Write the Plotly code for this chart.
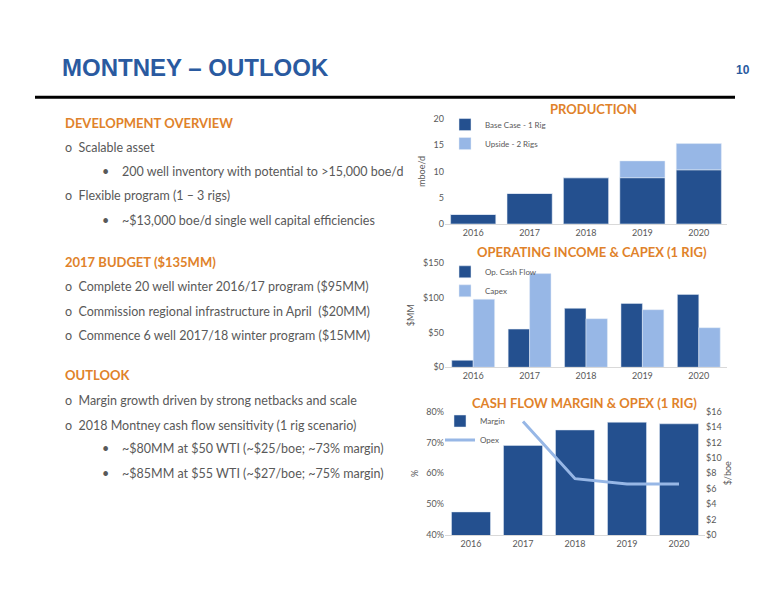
import plotly.graph_objects as go

years = ['2016', '2017', '2018', '2019', '2020']
base_case = [1.8, 5.8, 8.8, 8.8, 10.3]
upside = [0, 0, 0, 3.2, 5.0]
op_cash_flow = [10, 55, 85, 92, 105]
capex = [98, 135, 70, 83, 57]
margin = [47.5, 69, 74, 76.5, 76]
opex_years = ['2017', '2018', '2019', '2020']
opex = [14.7, 7.3, 6.6, 6.6]

W, H = 776, 600
DARK = '#24508f'
LIGHT = '#97b7e6'
ORANGE = '#e0822a'
GREY = '#595959'


def px(x):
    return x / W


def py(y):
    return 1 - y / H


fig = go.Figure()

# production
fig.add_trace(go.Bar(x=years, y=base_case, name='Base Case - 1 Rig', marker_color=DARK,
                     xaxis='x', yaxis='y'))
fig.add_trace(go.Bar(x=years, y=upside, base=base_case, name='Upside - 2 Rigs', marker_color=LIGHT,
                     xaxis='x', yaxis='y'))
# operating income & capex
fig.add_trace(go.Bar(x=years, y=op_cash_flow, name='Op. Cash Flow', marker_color=DARK,
                     offset=-0.38, width=0.38, xaxis='x2', yaxis='y2', legend='legend2'))
fig.add_trace(go.Bar(x=years, y=capex, name='Capex', marker_color=LIGHT,
                     offset=0.0, width=0.38, xaxis='x2', yaxis='y2', legend='legend2'))
# cash flow margin & opex
fig.add_trace(go.Bar(x=years, y=margin, name='Margin', marker_color=DARK, width=0.75,
                     xaxis='x3', yaxis='y3', legend='legend3'))
fig.add_trace(go.Scatter(x=opex_years, y=opex, name='Opex', mode='lines',
                         line=dict(color=LIGHT, width=3),
                         xaxis='x3', yaxis='y4', legend='legend3'))

tick = dict(size=9, color=GREY)
xcommon = dict(showgrid=False, tickfont=tick, showline=True, linecolor='#d9d9d9', ticks='')
leg = dict(xanchor='left', yanchor='top', font=dict(size=8, color=GREY),
           bgcolor='rgba(0,0,0,0)', itemwidth=30, tracegroupgap=0)

fig.update_layout(
    width=W, height=H, margin=dict(l=0, r=0, t=0, b=0),
    paper_bgcolor='white', plot_bgcolor='white',
    font=dict(family='Lato', color=GREY),
    barmode='overlay',
    xaxis=dict(domain=[px(445), px(727)], anchor='y', **xcommon),
    yaxis=dict(domain=[py(222), py(115)], range=[0, 20], dtick=5, showgrid=False,
               tickfont=tick, title=dict(text='mboe/d', font=dict(size=9), standoff=6)),
    xaxis2=dict(domain=[px(445), px(727)], anchor='y2', **xcommon),
    yaxis2=dict(domain=[py(368), py(262)], range=[0, 150], dtick=50, showgrid=False,
                tickprefix='$', tickfont=tick, title=dict(text='$MM', font=dict(size=9), standoff=6)),
    xaxis3=dict(domain=[px(445), px(705)], anchor='y3', **xcommon),
    yaxis3=dict(domain=[py(539), py(413)], range=[40, 80], dtick=10, showgrid=False,
                ticksuffix='%', tickfont=tick, title=dict(text='%', font=dict(size=9), standoff=6)),
    yaxis4=dict(overlaying='y3', side='right', anchor='x3', range=[0, 16], dtick=2,
                tickprefix='$', showgrid=False, tickfont=tick,
                title=dict(text='$/boe', font=dict(size=9), standoff=4)),
    legend=dict(x=px(445), y=py(106), **leg),
    legend2=dict(x=px(445), y=py(256), **leg),
    legend3=dict(x=px(440), y=py(408), **leg),
)

fig.add_shape(type='line', xref='paper', yref='paper', x0=px(35), x1=px(735),
              y0=py(93), y1=py(93), line=dict(color='black', width=3))

ann = [
    (60, 63, '<b>MONTNEY – OUTLOOK</b>', 24, '#2a5aa0', 'Liberation Sans', 'left'),
    (752, 65, '<b>10</b>', 12, '#2a5aa0', 'Liberation Sans', 'right'),
    (548, 105, '<b>PRODUCTION</b>', 13, ORANGE, 'Lato', 'left'),
    (475, 251, '<b>OPERATING INCOME & CAPEX (1 RIG)</b>', 13, ORANGE, 'Lato', 'left'),
    (470, 404, '<b>CASH FLOW MARGIN & OPEX (1 RIG)</b>', 13, ORANGE, 'Lato', 'left'),
    (63, 119, '<b>DEVELOPMENT OVERVIEW</b>', 13, ORANGE, 'Lato', 'left'),
    (63, 261, '<b>2017 BUDGET ($135MM)</b>', 13, ORANGE, 'Lato', 'left'),
    (63, 376, '<b>OUTLOOK</b>', 13, ORANGE, 'Lato', 'left'),
]
for x, y, t, s, c, f, a in ann:
    fig.add_annotation(x=px(x), y=py(y), xref='paper', yref='paper', text=t, showarrow=False,
                       xanchor=a, yanchor='middle', font=dict(size=s, color=c, family=f))

body = [
    (63, 144, 'o  Scalable asset'),
    (100, 169, '•    200 well inventory with potential to >15,000 boe/d'),
    (63, 193, 'o  Flexible program (1 – 3 rigs)'),
    (100, 218, '•    ~$13,000 boe/d single well capital efficiencies'),
    (63, 286, 'o  Complete 20 well winter 2016/17 program ($95MM)'),
    (63, 311, 'o  Commission regional infrastructure in April  ($20MM)'),
    (63, 336, 'o  Commence 6 well 2017/18 winter program ($15MM)'),
    (63, 402, 'o  Margin growth driven by strong netbacks and scale'),
    (63, 427, 'o  2018 Montney cash flow sensitivity (1 rig scenario)'),
    (100, 451, '•    ~$80MM at $50 WTI (~$25/boe; ~73% margin)'),
    (100, 476, '•    ~$85MM at $55 WTI (~$27/boe; ~75% margin)'),
]
for x, y, t in body:
    fig.add_annotation(x=px(x), y=py(y), xref='paper', yref='paper', text=t, showarrow=False,
                       xanchor='left', yanchor='middle', font=dict(size=12.5, color=GREY, family='Lato'))

fig.write_html('out.html', config={'displayModeBar': False},
               post_script="document.body.style.margin='0';")
